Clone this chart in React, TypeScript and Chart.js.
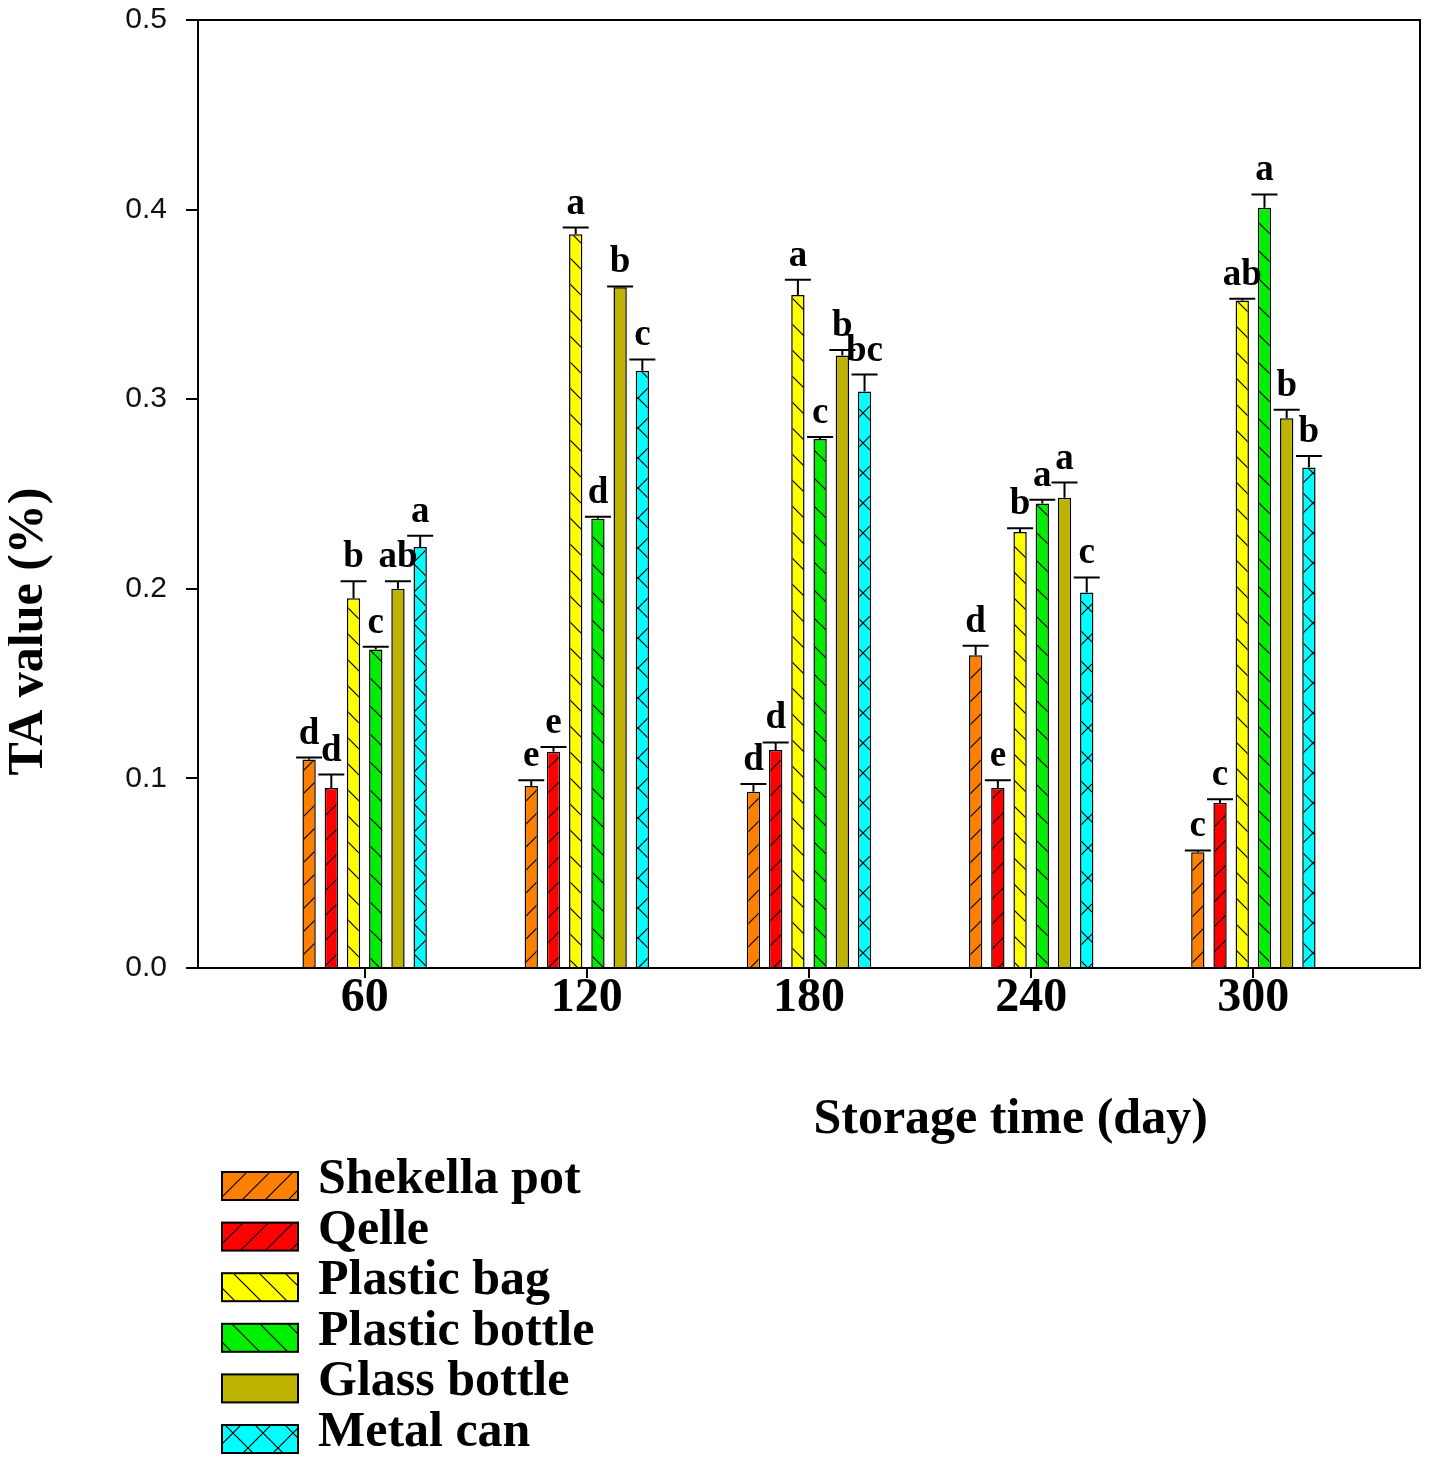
import { useEffect, useRef } from "react";
import { Chart, registerables } from "chart.js";
import type { ChartConfiguration, Plugin } from "chart.js";

Chart.register(...registerables);

// storage time (day)
const days = [60, 120, 180, 240, 300];
const yTicks = [0, 0.1, 0.2, 0.3, 0.4, 0.5];

const seriesNames = ["Shekella pot", "Qelle", "Plastic bag", "Plastic bottle", "Glass bottle", "Metal can"];

// TA value (%)
const shekellaPot = [0.110, 0.096, 0.093, 0.165, 0.061];
const qelle = [0.095, 0.114, 0.115, 0.095, 0.087];
const plasticBag = [0.195, 0.387, 0.355, 0.230, 0.352];
const plasticBottle = [0.168, 0.237, 0.279, 0.245, 0.401];
const glassBottle = [0.200, 0.359, 0.323, 0.248, 0.290];
const metalCan = [0.222, 0.315, 0.304, 0.198, 0.264];

// error bars
const shekellaPotErr = [0.001, 0.003, 0.004, 0.005, 0.001];
const qelleErr = [0.007, 0.0025, 0.004, 0.004, 0.002];
const plasticBagErr = [0.009, 0.0035, 0.008, 0.002, 0.001];
const plasticBottleErr = [0.0015, 0.001, 0.001, 0.002, 0.007];
const glassBottleErr = [0.004, 0.0005, 0.003, 0.008, 0.0045];
const metalCanErr = [0.006, 0.006, 0.009, 0.008, 0.006];

// significance letters
const shekellaPotLetters = ["d", "e", "d", "d", "c"];
const qelleLetters = ["d", "e", "d", "e", "c"];
const plasticBagLetters = ["b", "a", "a", "b", "ab"];
const plasticBottleLetters = ["c", "d", "c", "a", "a"];
const glassBottleLetters = ["ab", "b", "b", "a", "b"];
const metalCanLetters = ["a", "c", "bc", "c", "b"];

const values = [shekellaPot, qelle, plasticBag, plasticBottle, glassBottle, metalCan];
const errors = [shekellaPotErr, qelleErr, plasticBagErr, plasticBottleErr, glassBottleErr, metalCanErr];
const letters = [shekellaPotLetters, qelleLetters, plasticBagLetters, plasticBottleLetters, glassBottleLetters, metalCanLetters];

const colors = ["#FF8000", "#FF0000", "#FFFF00", "#00EE00", "#BDB300", "#00FFFF"];
type Hatch = "fwd" | "back" | "cross" | "none";
const hatches: Hatch[] = ["fwd", "fwd", "back", "back", "none", "cross"];
const hatchGaps = [23, 25, 26, 28, 0, 30];

const SERIF = "'Liberation Serif', 'Times New Roman', serif";
const SANS = "'Liberation Sans', Arial, sans-serif";

function makePattern(color: string, hatch: Hatch, p: number): CanvasPattern | string {
  if (hatch === "none") return color;
  const c = document.createElement("canvas");
  c.width = p;
  c.height = p;
  const g = c.getContext("2d");
  if (!g) return color;
  g.fillStyle = color;
  g.fillRect(0, 0, p, p);
  g.strokeStyle = "#000";
  g.lineWidth = 1.2;
  g.beginPath();
  if (hatch === "fwd" || hatch === "cross") {
    g.moveTo(-1, p + 1);
    g.lineTo(p + 1, -1);
    g.moveTo(-1, 1);
    g.lineTo(1, -1);
    g.moveTo(p - 1, p + 1);
    g.lineTo(p + 1, p - 1);
  }
  if (hatch === "back" || hatch === "cross") {
    g.moveTo(-1, -1);
    g.lineTo(p + 1, p + 1);
    g.moveTo(p - 1, -1);
    g.lineTo(p + 1, 1);
    g.moveTo(-1, p - 1);
    g.lineTo(1, p + 1);
  }
  g.stroke();
  return g.createPattern(c, "repeat") ?? color;
}

const decorPlugin: Plugin<"bar"> = {
  id: "decor",
  afterDatasetsDraw(chart) {
    const { ctx } = chart;
    const y = chart.scales.y;
    ctx.save();
    chart.data.datasets.forEach((ds: any, di) => {
      const meta = chart.getDatasetMeta(di);
      meta.data.forEach((bar: any, i) => {
        const v = (ds.data[i] as any).y as number;
        const e = ds.errors[i] as number;
        const yTop = y.getPixelForValue(v);
        const yErr = y.getPixelForValue(v + e);
        const x = bar.x;
        ctx.strokeStyle = "#000";
        ctx.lineWidth = 2;
        ctx.beginPath();
        ctx.moveTo(x, yTop);
        ctx.lineTo(x, yErr);
        ctx.moveTo(x - 13, yErr);
        ctx.lineTo(x + 13, yErr);
        ctx.stroke();
        ctx.fillStyle = "#000";
        ctx.font = `bold 37px ${SERIF}`;
        ctx.textAlign = "center";
        ctx.textBaseline = "alphabetic";
        ctx.fillText(ds.letters[i], x, yErr - 14);
      });
    });
    ctx.restore();
  },
  afterDraw(chart) {
    const { ctx, chartArea: a } = chart;
    ctx.save();
    // frame
    ctx.strokeStyle = "#000";
    ctx.lineWidth = 2;
    ctx.strokeRect(a.left, a.top, a.right - a.left, a.bottom - a.top);
    ctx.beginPath();
    ctx.moveTo(a.left - 12, a.bottom);
    ctx.lineTo(a.left, a.bottom);
    ctx.stroke();

    // axis titles
    ctx.fillStyle = "#000";
    ctx.font = `bold 50px ${SERIF}`;
    ctx.textAlign = "center";
    ctx.textBaseline = "alphabetic";
    ctx.fillText("Storage time (day)", a.left + (a.right - a.left) * 0.665, a.bottom + 165);
    ctx.save();
    ctx.translate(34, a.top + (a.bottom - a.top) * 0.645);
    ctx.rotate(-Math.PI / 2);
    ctx.fillText("TA value (%)", 0, 0);
    ctx.restore();

    // legend
    chart.data.datasets.forEach((ds: any, di) => {
      const top = a.bottom + 204 + di * 50.6;
      ctx.fillStyle = ds.backgroundColor;
      ctx.fillRect(214, top, 76, 28);
      ctx.strokeStyle = "#000";
      ctx.lineWidth = 2;
      ctx.strokeRect(214, top, 76, 28);
      ctx.fillStyle = "#000";
      ctx.font = `bold 50px ${SERIF}`;
      ctx.textAlign = "left";
      ctx.fillText(ds.label, 310, top + 21);
    });
    ctx.restore();
  },
};

export default function App() {
  const canvasRef = useRef<HTMLCanvasElement | null>(null);

  useEffect(() => {
    const canvas = canvasRef.current;
    if (!canvas) return;

    const datasets = seriesNames.map((name, k) => ({
      label: name,
      data: days.map((d, i) => ({ x: d, y: values[k][i] })),
      backgroundColor: makePattern(colors[k], hatches[k], hatchGaps[k]),
      borderColor: "#000",
      borderWidth: 1.5,
      barPercentage: 0.6,
      categoryPercentage: 0.6,
      errors: errors[k],
      letters: letters[k],
    }));

    const config: ChartConfiguration<"bar"> = {
      type: "bar",
      data: { datasets: datasets as any },
      options: {
        responsive: false,
        animation: false,
        devicePixelRatio: 1,
        layout: { padding: { left: 0, top: 12, right: 1, bottom: 0 } },
        plugins: {
          legend: { display: false },
          tooltip: { enabled: false },
        },
        scales: {
          x: {
            type: "linear",
            min: 15,
            max: 345,
            offset: false,
            afterBuildTicks: (scale) => {
              scale.ticks = days.map((d) => ({ value: d }));
            },
            afterFit: (scale) => {
              scale.height = 486;
            },
            grid: { offset: false, drawOnChartArea: false, drawTicks: true, tickLength: 10, color: "#000", lineWidth: 2 },
            border: { display: false },
            ticks: {
              color: "#000",
              padding: -8,
              maxRotation: 0,
              autoSkip: false,
              font: { family: SERIF, size: 48, weight: "bold" },
              callback: (v) => String(v),
            },
          },
          y: {
            min: 0,
            max: 0.5,
            afterBuildTicks: (scale) => {
              scale.ticks = yTicks.map((t) => ({ value: t }));
            },
            afterFit: (scale: any) => {
              scale.width = 190;
              scale.paddingTop = 0;
              scale.paddingBottom = 0;
            },
            grid: { drawOnChartArea: false, drawTicks: true, tickLength: 12, color: "#000", lineWidth: 2 },
            border: { display: false },
            ticks: {
              color: "#111",
              padding: 19,
              font: { family: SANS, size: 30, lineHeight: 0.8 },
              callback: (v) => Number(v).toFixed(1),
            },
          },
        },
      },
      plugins: [decorPlugin],
    };

    const chart = new Chart(canvas, config);
    return () => chart.destroy();
  }, []);

  return (
    <canvas
      ref={canvasRef}
      width={1413}
      height={1446}
      style={{ display: "block", width: 1413, height: 1446 }}
    />
  );
}
